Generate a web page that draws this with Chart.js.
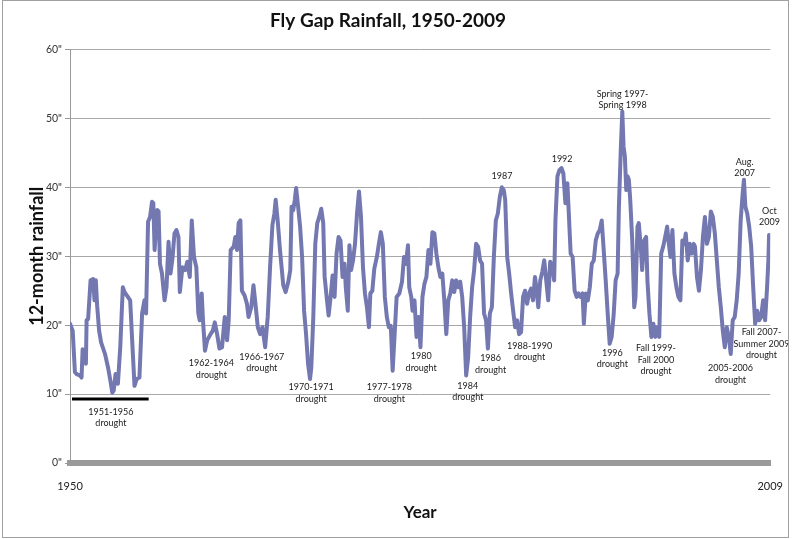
<!DOCTYPE html>
<html>
<head>
<meta charset="utf-8">
<title>Fly Gap Rainfall, 1950-2009</title>
<script src="https://cdn.jsdelivr.net/npm/chart.js@4.4.1/dist/chart.umd.min.js"></script>
<style>
  html, body { margin: 0; padding: 0; background: #fff; }
  #wrap { width: 800px; height: 539px; }
</style>
</head>
<body>
<div id="wrap"><canvas id="rainChart" width="800" height="539"></canvas></div>
<script>
// Text
const chartTitle = 'Fly Gap Rainfall, 1950-2009';
const yTitle = '12-month rainfall';
const xTitle = 'Year';

// Axis ticks
const xTickValues = [1950, 2009.92];
const xTickLabels = ['1950', '2009'];
const yTickValues = [0, 10, 20, 30, 40, 50, 60];

// 12-month rainfall, [decimal year, inches]
const rainfall = [
  [1950.00, 20.2], [1950.23, 19.2], [1950.42, 13.2], [1950.57, 12.9], [1950.85, 12.7], [1950.99, 12.4],
  [1951.08, 16.5], [1951.19, 16.3], [1951.36, 14.4], [1951.42, 20.7], [1951.55, 20.9], [1951.76, 26.5],
  [1951.98, 26.7], [1952.10, 23.6], [1952.21, 26.5], [1952.32, 22.9], [1952.49, 19.2], [1952.66, 17.5],
  [1953.00, 15.8], [1953.25, 13.9], [1953.46, 11.9], [1953.62, 10.2], [1953.74, 10.5], [1953.90, 12.9],
  [1954.10, 11.5], [1954.30, 16.8], [1954.52, 25.5], [1954.67, 24.8], [1954.95, 24.1], [1955.15, 23.6],
  [1955.32, 17.8], [1955.52, 11.2], [1955.71, 12.2], [1955.94, 12.4], [1956.17, 21.7], [1956.37, 23.6],
  [1956.51, 21.7], [1956.68, 35.0], [1956.85, 35.7], [1957.02, 37.9], [1957.13, 37.7], [1957.24, 30.9],
  [1957.36, 34.3], [1957.47, 36.7], [1957.58, 36.5], [1957.70, 28.9], [1957.87, 27.5], [1958.09, 23.6],
  [1958.26, 25.5], [1958.43, 32.1], [1958.60, 27.5], [1958.77, 29.7], [1958.94, 33.3], [1959.11, 33.8],
  [1959.28, 32.8], [1959.40, 24.8], [1959.62, 28.4], [1959.85, 28.0],
  [1960.04, 29.2], [1960.25, 27.0], [1960.42, 35.2], [1960.61, 29.9], [1960.81, 28.4], [1960.98, 21.7],
  [1961.10, 20.7], [1961.27, 24.6], [1961.38, 20.7], [1961.55, 16.3], [1961.74, 17.8], [1962.03, 18.7],
  [1962.22, 19.2], [1962.39, 20.4], [1962.59, 18.7], [1962.79, 16.6], [1963.01, 16.8], [1963.24, 21.2],
  [1963.44, 17.8], [1963.58, 20.7], [1963.75, 30.9], [1964.01, 31.4], [1964.15, 32.8], [1964.29, 30.9],
  [1964.43, 34.8], [1964.58, 35.2], [1964.71, 25.0], [1964.94, 24.3], [1965.14, 23.1], [1965.28, 21.2],
  [1965.51, 22.6], [1965.70, 25.8], [1965.90, 22.6], [1966.07, 19.7], [1966.27, 18.7], [1966.47, 19.7],
  [1966.70, 16.8], [1966.92, 21.2], [1967.12, 28.4], [1967.32, 34.5], [1967.49, 36.2], [1967.60, 38.2],
  [1967.77, 35.2], [1967.97, 30.9], [1968.25, 25.8], [1968.45, 24.8], [1968.68, 26.3], [1968.85, 28.0],
  [1968.96, 37.2], [1969.10, 36.7], [1969.24, 38.2], [1969.35, 39.9], [1969.52, 37.2], [1969.69, 34.3],
  [1969.86, 29.9],
  [1970.03, 22.1], [1970.20, 18.7], [1970.37, 14.4], [1970.54, 12.2], [1970.65, 13.9], [1970.82, 21.2],
  [1970.99, 31.8], [1971.16, 34.8], [1971.33, 35.7], [1971.50, 36.9], [1971.67, 34.8], [1971.79, 27.0],
  [1971.96, 24.1], [1972.13, 21.4], [1972.30, 24.1], [1972.47, 27.2], [1972.64, 24.1], [1972.81, 30.4],
  [1972.98, 32.8], [1973.15, 32.3], [1973.32, 27.0], [1973.49, 28.9], [1973.60, 25.5], [1973.77, 22.1],
  [1973.91, 31.6], [1974.05, 28.0], [1974.22, 29.4], [1974.39, 31.8], [1974.56, 36.2], [1974.73, 39.4],
  [1974.90, 35.7], [1975.07, 28.4], [1975.24, 24.6], [1975.41, 22.6], [1975.58, 19.7], [1975.70, 24.6],
  [1975.87, 25.0], [1976.04, 28.2], [1976.26, 29.9], [1976.43, 31.8], [1976.60, 33.5], [1976.77, 31.8],
  [1976.94, 24.1], [1977.11, 21.2], [1977.28, 19.7], [1977.45, 19.9], [1977.61, 13.4], [1977.78, 18.7],
  [1977.95, 24.1], [1978.18, 24.6], [1978.41, 26.3], [1978.58, 29.9], [1978.75, 28.9], [1978.92, 31.6],
  [1979.03, 25.5], [1979.20, 24.1], [1979.31, 22.1], [1979.48, 23.6], [1979.65, 18.3], [1979.82, 21.2],
  [1979.99, 16.8],
  [1980.16, 24.1], [1980.33, 26.0], [1980.50, 27.0], [1980.67, 30.9], [1980.84, 28.9], [1981.01, 33.5],
  [1981.18, 33.3], [1981.35, 30.4], [1981.52, 28.4], [1981.69, 27.0], [1981.86, 27.5], [1982.03, 23.6],
  [1982.20, 18.7], [1982.37, 23.6], [1982.54, 24.6], [1982.71, 26.5], [1982.88, 24.8], [1983.05, 26.5],
  [1983.22, 25.5], [1983.39, 26.3], [1983.56, 24.1], [1983.73, 19.7], [1983.90, 12.7], [1984.07, 15.3],
  [1984.24, 21.2], [1984.41, 25.5], [1984.58, 28.0], [1984.75, 31.8], [1984.92, 31.4], [1985.09, 29.4],
  [1985.26, 28.9], [1985.43, 21.7], [1985.60, 20.7], [1985.76, 16.6], [1985.93, 21.7], [1986.10, 22.6],
  [1986.27, 29.9], [1986.44, 35.2], [1986.61, 36.2], [1986.78, 38.6], [1986.95, 40.0], [1987.12, 39.6],
  [1987.24, 38.2], [1987.41, 29.9], [1987.58, 27.5], [1987.75, 24.6], [1987.92, 22.1], [1988.09, 19.7],
  [1988.26, 20.7], [1988.43, 18.7], [1988.60, 19.0], [1988.77, 24.1], [1988.94, 25.0], [1989.11, 23.1],
  [1989.28, 24.6], [1989.45, 25.3], [1989.62, 23.6], [1989.79, 27.0], [1989.96, 24.6],
  [1990.07, 22.6], [1990.24, 26.5], [1990.41, 27.7], [1990.58, 29.4], [1990.75, 26.5], [1990.92, 23.6],
  [1991.09, 29.2], [1991.26, 28.7], [1991.43, 26.5], [1991.54, 35.2], [1991.71, 41.6], [1991.88, 42.5],
  [1992.05, 42.8], [1992.22, 42.0], [1992.39, 37.7], [1992.56, 40.6], [1992.67, 36.7], [1992.84, 30.4],
  [1993.01, 29.9], [1993.18, 25.0], [1993.35, 24.1], [1993.52, 24.6], [1993.69, 24.1], [1993.86, 24.6],
  [1993.97, 20.2], [1994.14, 24.6], [1994.31, 23.6], [1994.48, 25.5], [1994.65, 28.9], [1994.82, 29.4],
  [1994.99, 32.3], [1995.16, 33.3], [1995.33, 33.8], [1995.50, 35.2], [1995.67, 30.9], [1995.84, 26.5],
  [1996.01, 21.7], [1996.18, 17.3], [1996.35, 18.3], [1996.52, 21.5], [1996.69, 26.5], [1996.86, 27.5],
  [1996.97, 37.2], [1997.14, 45.9], [1997.26, 51.0], [1997.37, 45.9], [1997.48, 44.5], [1997.60, 39.6],
  [1997.71, 41.6], [1997.82, 41.1], [1997.94, 38.2], [1998.11, 32.3], [1998.28, 22.6], [1998.39, 24.1],
  [1998.56, 34.3], [1998.67, 34.8], [1998.84, 31.4], [1998.96, 28.0], [1999.13, 32.3], [1999.30, 32.8],
  [1999.41, 26.5], [1999.58, 21.7], [1999.75, 18.3], [1999.92, 20.2],
  [2000.09, 18.3], [2000.26, 19.7], [2000.42, 18.3], [2000.59, 30.4], [2000.76, 31.4], [2000.93, 32.8],
  [2001.10, 34.3], [2001.21, 32.3], [2001.38, 29.9], [2001.55, 33.8], [2001.72, 27.5], [2001.89, 25.5],
  [2002.06, 24.1], [2002.23, 23.6], [2002.40, 32.3], [2002.57, 31.8], [2002.69, 33.3], [2002.86, 29.4],
  [2003.03, 31.8], [2003.20, 30.4], [2003.37, 31.8], [2003.48, 31.4], [2003.65, 27.0], [2003.82, 25.0],
  [2003.99, 28.0], [2004.16, 32.8], [2004.33, 35.7], [2004.50, 31.8], [2004.67, 32.8], [2004.84, 36.5],
  [2005.01, 35.7], [2005.18, 33.3], [2005.35, 29.4], [2005.52, 25.5], [2005.69, 22.6], [2005.86, 19.2],
  [2006.03, 16.8], [2006.20, 19.7], [2006.37, 18.3], [2006.54, 15.8], [2006.71, 20.7], [2006.88, 21.2],
  [2007.05, 23.6], [2007.22, 27.5], [2007.39, 35.2], [2007.56, 39.1], [2007.67, 41.1], [2007.79, 37.2],
  [2007.95, 36.2], [2008.12, 34.3], [2008.29, 31.4], [2008.46, 25.5], [2008.63, 20.2], [2008.80, 22.1],
  [2008.97, 20.7], [2009.14, 21.2], [2009.31, 23.6], [2009.48, 20.7], [2009.65, 25.5], [2009.76, 29.4],
  [2009.82, 33.1]
];

// black bar under the 1951-1956 drought
const longDrought = [[1950.17, 9.3], [1956.73, 9.3]];

// callouts, anchored at [year, inches] of the first text line
const notes = [
  { year: 1953.50, inches: 7.45, lines: ['1951-1956', 'drought'] },
  { year: 1962.10, inches: 14.5, lines: ['1962-1964', 'drought'] },
  { year: 1966.41, inches: 15.4, lines: ['1966-1967', 'drought'] },
  { year: 1970.63, inches: 11.0, lines: ['1970-1971', 'drought'] },
  { year: 1977.33, inches: 11.0, lines: ['1977-1978', 'drought'] },
  { year: 1980.05, inches: 15.5, lines: ['1980', 'drought'] },
  { year: 1984.04, inches: 11.2, lines: ['1984', 'drought'] },
  { year: 1985.99, inches: 15.2, lines: ['1986', 'drought'] },
  { year: 1986.97, inches: 41.6, lines: ['1987'] },
  { year: 1989.33, inches: 17.0, lines: ['1988-1990', 'drought'] },
  { year: 1992.11, inches: 44.1, lines: ['1992'] },
  { year: 1997.28, inches: 53.6, lines: ['Spring 1997-', 'Spring 1998'] },
  { year: 1996.41, inches: 16.0, lines: ['1996', 'drought'] },
  { year: 2000.14, inches: 16.65, lines: ['Fall 1999-', 'Fall 2000', 'drought'] },
  { year: 2006.52, inches: 13.7, lines: ['2005-2006', 'drought'] },
  { year: 2007.73, inches: 43.7, lines: ['Aug.', '2007'] },
  { year: 2009.85, inches: 36.6, lines: ['Oct', '2009'] },
  { year: 2009.17, inches: 19.0, lines: ['Fall 2007-', 'Summer 2009', 'drought'] }
];

Chart.defaults.font.family = 'Lato, "Open Sans", sans-serif';

// callout text
const notesPlugin = {
  id: 'notes',
  afterDatasetsDraw(chart) {
    const { ctx, scales: { x, y } } = chart;
    ctx.save();
    ctx.font = '9px Lato, "Open Sans", sans-serif';
    ctx.fillStyle = '#1a1a1a';
    ctx.textAlign = 'center';
    ctx.textBaseline = 'middle';
    notes.forEach(n => {
      const px = x.getPixelForValue(n.year);
      const py = y.getPixelForValue(n.inches);
      n.lines.forEach((t, i) => ctx.fillText(t, px, py + i * 11.6));
    });
    ctx.restore();
  }
};

// thin frame round the whole picture
const framePlugin = {
  id: 'frame',
  afterDraw(chart) {
    const ctx = chart.ctx;
    ctx.save();
    ctx.strokeStyle = '#a0a0a0';
    ctx.lineWidth = 1;
    ctx.strokeRect(2.5, 0.5, 786, 537);
    ctx.restore();
  }
};

const ctx = document.getElementById('rainChart').getContext('2d');
new Chart(ctx, {
  type: 'line',
  data: {
    datasets: [
      {
        label: '12-month rainfall',
        data: rainfall.map(p => ({ x: p[0], y: p[1] })),
        borderColor: '#7478b1',
        borderWidth: 4,
        borderJoinStyle: 'round',
        borderCapStyle: 'round',
        pointRadius: 0,
        tension: 0,
        fill: false
      },
      {
        label: '1951-1956 drought',
        data: longDrought.map(p => ({ x: p[0], y: p[1] })),
        borderColor: '#000',
        borderWidth: 3,
        pointRadius: 0,
        fill: false
      }
    ]
  },
  options: {
    responsive: false,
    devicePixelRatio: 1,
    animation: false,
    layout: { padding: { left: 0, right: 24, top: 0, bottom: 0 } },
    scales: {
      x: {
        type: 'linear',
        min: xTickValues[0],
        max: xTickValues[1],
        afterBuildTicks: s => { s.ticks = xTickValues.map(v => ({ value: v })); },
        afterFit: s => { s.height = 76; },
        grid: { display: false, drawTicks: false },
        border: { display: true, color: '#9a9a9a', width: 6 },
        ticks: {
          autoSkip: false,
          maxRotation: 0,
          padding: 17,
          color: '#222',
          font: { size: 11 },
          callback: (v, i) => xTickLabels[i]
        },
        title: {
          display: true,
          text: xTitle,
          color: '#111',
          font: { size: 17, weight: 'bold' },
          padding: { top: 0, bottom: 16 }
        }
      },
      y: {
        min: yTickValues[0],
        max: yTickValues[yTickValues.length - 1],
        afterBuildTicks: s => { s.ticks = yTickValues.map(v => ({ value: v })); },
        afterFit: s => { s.width = 70; },
        grid: { color: '#a8a8a8', lineWidth: 1, drawTicks: true, tickLength: 5, tickColor: '#999' },
        border: { display: true, color: '#999', width: 1 },
        ticks: {
          padding: 3,
          color: '#333',
          font: { size: 10.5 },
          callback: v => v + '"'
        },
        title: {
          display: true,
          text: yTitle,
          color: '#111',
          font: { size: 18, weight: 'bold' },
          padding: { top: 26, bottom: 0 }
        }
      }
    },
    plugins: {
      legend: { display: false },
      tooltip: { enabled: false },
      title: {
        display: true,
        text: chartTitle,
        color: '#111',
        font: { size: 19, weight: 'bold' },
        padding: { top: 9, bottom: 17.7 }
      }
    }
  },
  plugins: [notesPlugin, framePlugin]
});
</script>
</body>
</html>
